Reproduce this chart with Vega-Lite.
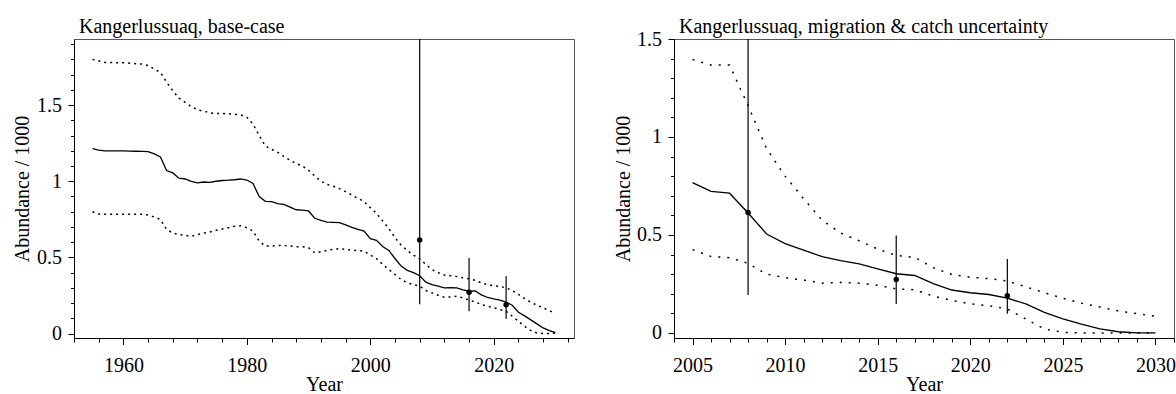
{
  "$schema": "https://vega.github.io/schema/vega-lite/v6.json",
  "padding": {"left": 11, "top": 16, "right": 0, "bottom": 0},
  "spacing": 100,
  "bounds": "flush",
  "datasets": {
    "base": [
      {"year": 1955, "med": 1.215, "hi": 1.80, "lo": 0.80},
      {"year": 1956, "med": 1.205, "hi": 1.79, "lo": 0.785},
      {"year": 1957, "med": 1.20, "hi": 1.78, "lo": 0.783},
      {"year": 1958, "med": 1.20, "hi": 1.78, "lo": 0.783},
      {"year": 1959, "med": 1.20, "hi": 1.778, "lo": 0.783},
      {"year": 1960, "med": 1.20, "hi": 1.778, "lo": 0.783},
      {"year": 1961, "med": 1.198, "hi": 1.775, "lo": 0.783},
      {"year": 1962, "med": 1.197, "hi": 1.772, "lo": 0.783},
      {"year": 1963, "med": 1.196, "hi": 1.77, "lo": 0.783},
      {"year": 1964, "med": 1.195, "hi": 1.76, "lo": 0.778},
      {"year": 1965, "med": 1.18, "hi": 1.737, "lo": 0.765},
      {"year": 1966, "med": 1.16, "hi": 1.715, "lo": 0.75},
      {"year": 1967, "med": 1.07, "hi": 1.65, "lo": 0.684},
      {"year": 1968, "med": 1.055, "hi": 1.595, "lo": 0.66},
      {"year": 1969, "med": 1.02, "hi": 1.546, "lo": 0.65},
      {"year": 1970, "med": 1.015, "hi": 1.518, "lo": 0.645},
      {"year": 1971, "med": 1.0, "hi": 1.49, "lo": 0.638},
      {"year": 1972, "med": 0.99, "hi": 1.47, "lo": 0.65},
      {"year": 1973, "med": 0.995, "hi": 1.46, "lo": 0.66},
      {"year": 1974, "med": 0.993, "hi": 1.45, "lo": 0.667},
      {"year": 1975, "med": 1.0, "hi": 1.445, "lo": 0.678},
      {"year": 1976, "med": 1.005, "hi": 1.445, "lo": 0.686},
      {"year": 1977, "med": 1.007, "hi": 1.443, "lo": 0.695},
      {"year": 1978, "med": 1.01, "hi": 1.44, "lo": 0.704},
      {"year": 1979, "med": 1.015, "hi": 1.436, "lo": 0.708},
      {"year": 1980, "med": 1.008, "hi": 1.42, "lo": 0.695},
      {"year": 1981, "med": 0.985, "hi": 1.375, "lo": 0.673},
      {"year": 1982, "med": 0.90, "hi": 1.30, "lo": 0.607},
      {"year": 1983, "med": 0.868, "hi": 1.232, "lo": 0.575},
      {"year": 1984, "med": 0.866, "hi": 1.21, "lo": 0.575},
      {"year": 1985, "med": 0.853, "hi": 1.19, "lo": 0.579},
      {"year": 1986, "med": 0.848, "hi": 1.162, "lo": 0.579},
      {"year": 1987, "med": 0.83, "hi": 1.138, "lo": 0.575},
      {"year": 1988, "med": 0.813, "hi": 1.116, "lo": 0.57},
      {"year": 1989, "med": 0.81, "hi": 1.10, "lo": 0.57},
      {"year": 1990, "med": 0.805, "hi": 1.072, "lo": 0.564},
      {"year": 1991, "med": 0.757, "hi": 1.035, "lo": 0.53},
      {"year": 1992, "med": 0.743, "hi": 1.0, "lo": 0.537},
      {"year": 1993, "med": 0.732, "hi": 0.98, "lo": 0.546},
      {"year": 1994, "med": 0.73, "hi": 0.967, "lo": 0.553},
      {"year": 1995, "med": 0.728, "hi": 0.952, "lo": 0.557},
      {"year": 1996, "med": 0.713, "hi": 0.932, "lo": 0.553},
      {"year": 1997, "med": 0.697, "hi": 0.91, "lo": 0.548},
      {"year": 1998, "med": 0.684, "hi": 0.888, "lo": 0.544},
      {"year": 1999, "med": 0.673, "hi": 0.866, "lo": 0.542},
      {"year": 2000, "med": 0.623, "hi": 0.827, "lo": 0.515},
      {"year": 2001, "med": 0.612, "hi": 0.79, "lo": 0.493},
      {"year": 2002, "med": 0.572, "hi": 0.74, "lo": 0.454},
      {"year": 2003, "med": 0.546, "hi": 0.69, "lo": 0.42},
      {"year": 2004, "med": 0.493, "hi": 0.63, "lo": 0.388},
      {"year": 2005, "med": 0.443, "hi": 0.58, "lo": 0.355},
      {"year": 2006, "med": 0.415, "hi": 0.546, "lo": 0.333},
      {"year": 2007, "med": 0.40, "hi": 0.515, "lo": 0.322},
      {"year": 2008, "med": 0.38, "hi": 0.49, "lo": 0.311},
      {"year": 2009, "med": 0.338, "hi": 0.454, "lo": 0.283},
      {"year": 2010, "med": 0.322, "hi": 0.42, "lo": 0.267},
      {"year": 2011, "med": 0.311, "hi": 0.40, "lo": 0.252},
      {"year": 2012, "med": 0.30, "hi": 0.384, "lo": 0.239},
      {"year": 2013, "med": 0.302, "hi": 0.38, "lo": 0.241},
      {"year": 2014, "med": 0.30, "hi": 0.375, "lo": 0.245},
      {"year": 2015, "med": 0.287, "hi": 0.366, "lo": 0.235},
      {"year": 2016, "med": 0.278, "hi": 0.36, "lo": 0.22},
      {"year": 2017, "med": 0.28, "hi": 0.349, "lo": 0.208},
      {"year": 2018, "med": 0.254, "hi": 0.333, "lo": 0.19},
      {"year": 2019, "med": 0.237, "hi": 0.322, "lo": 0.18},
      {"year": 2020, "med": 0.228, "hi": 0.314, "lo": 0.169},
      {"year": 2021, "med": 0.22, "hi": 0.31, "lo": 0.158},
      {"year": 2022, "med": 0.206, "hi": 0.30, "lo": 0.147},
      {"year": 2023, "med": 0.186, "hi": 0.283, "lo": 0.114},
      {"year": 2024, "med": 0.14, "hi": 0.257, "lo": 0.081},
      {"year": 2025, "med": 0.116, "hi": 0.23, "lo": 0.048},
      {"year": 2026, "med": 0.09, "hi": 0.206, "lo": 0.02},
      {"year": 2027, "med": 0.064, "hi": 0.186, "lo": 0.004},
      {"year": 2028, "med": 0.037, "hi": 0.169, "lo": 0.0},
      {"year": 2029, "med": 0.02, "hi": 0.151, "lo": 0.0},
      {"year": 2030, "med": 0.006, "hi": 0.131, "lo": 0.004}
    ],
    "mig": [
      {"year": 2005, "med": 0.767, "hi": 1.395, "lo": 0.425},
      {"year": 2006, "med": 0.722, "hi": 1.367, "lo": 0.39},
      {"year": 2007, "med": 0.713, "hi": 1.367, "lo": 0.384},
      {"year": 2008, "med": 0.612, "hi": 1.16, "lo": 0.355},
      {"year": 2009, "med": 0.505, "hi": 0.94, "lo": 0.30},
      {"year": 2010, "med": 0.456, "hi": 0.80, "lo": 0.282},
      {"year": 2011, "med": 0.423, "hi": 0.685, "lo": 0.27},
      {"year": 2012, "med": 0.389, "hi": 0.575, "lo": 0.254},
      {"year": 2013, "med": 0.369, "hi": 0.51, "lo": 0.258},
      {"year": 2014, "med": 0.352, "hi": 0.47, "lo": 0.254},
      {"year": 2015, "med": 0.327, "hi": 0.428, "lo": 0.243},
      {"year": 2016, "med": 0.302, "hi": 0.395, "lo": 0.225},
      {"year": 2017, "med": 0.293, "hi": 0.386, "lo": 0.22},
      {"year": 2018, "med": 0.252, "hi": 0.333, "lo": 0.188},
      {"year": 2019, "med": 0.219, "hi": 0.298, "lo": 0.166},
      {"year": 2020, "med": 0.205, "hi": 0.284, "lo": 0.148},
      {"year": 2021, "med": 0.196, "hi": 0.277, "lo": 0.139},
      {"year": 2022, "med": 0.177, "hi": 0.265, "lo": 0.122},
      {"year": 2023, "med": 0.148, "hi": 0.235, "lo": 0.071},
      {"year": 2024, "med": 0.105, "hi": 0.205, "lo": 0.02},
      {"year": 2025, "med": 0.072, "hi": 0.177, "lo": 0.003},
      {"year": 2026, "med": 0.045, "hi": 0.152, "lo": 0.0},
      {"year": 2027, "med": 0.021, "hi": 0.132, "lo": 0.0},
      {"year": 2028, "med": 0.006, "hi": 0.112, "lo": 0.0},
      {"year": 2029, "med": 0.0, "hi": 0.098, "lo": 0.0},
      {"year": 2030, "med": 0.0, "hi": 0.085, "lo": 0.0}
    ],
    "obs": [
      {"year": 2008, "est": 0.615, "lo": 0.193, "hi": 2.5},
      {"year": 2016, "est": 0.272, "lo": 0.147, "hi": 0.497},
      {"year": 2022, "est": 0.19, "lo": 0.098, "hi": 0.377}
    ]
  },
  "hconcat": [
    {
      "title": {"text": "Kangerlussuaq, base-case", "offset": 2},
      "width": 500,
      "height": 299,
      "encoding": {
        "x": {
          "field": "year", "type": "quantitative", "title": "Year",
          "scale": {"domain": [1952, 2033], "nice": false, "zero": false},
          "axis": {
            "values": [1952, 1956, 1960, 1964, 1968, 1972, 1976, 1980, 1984, 1988, 1992, 1996, 2000, 2004, 2008, 2012, 2016, 2020, 2024, 2028, 2032],
            "tickCount": 200,
            "format": "d",
            "labelExpr": "datum.value % 20 === 0 ? datum.label : ''",
            "tickSize": {"condition": {"test": "datum.value % 20 === 0", "value": 6.5}, "value": 4},
            "labelPadding": 10.5,
            "labelOverlap": false,
            "titleBaseline": "alphabetic",
            "titleY": 52
          }
        }
      },
      "layer": [
        {
          "data": {"name": "base"},
          "mark": {"type": "line", "color": "black", "strokeWidth": 1.3},
          "encoding": {
            "y": {
              "field": "med", "type": "quantitative", "title": "Abundance / 1000",
              "scale": {"domain": [-0.029, 1.934], "nice": false, "zero": false},
              "axis": {
                "values": [0, 0.1, 0.2, 0.3, 0.4, 0.5, 0.6, 0.7, 0.8, 0.9, 1, 1.1, 1.2, 1.3, 1.4, 1.5, 1.6, 1.7, 1.8, 1.9],
                "tickCount": 200,
                "format": "~g",
                "labelExpr": "abs(datum.value*2 - round(datum.value*2)) < 0.001 ? datum.label : ''",
                "labelFontSize": {"condition": {"test": "abs(datum.value*2 - round(datum.value*2)) < 0.001", "value": 20}, "value": 0},
                "tickSize": {"condition": {"test": "abs(datum.value*2 - round(datum.value*2)) < 0.001", "value": 6}, "value": 3.5},
                "labelPadding": 6.5,
                "labelOverlap": false,
                "titleX": -46,
                "titleY": 149.5,
                "titleBaseline": "alphabetic",
                "titleAngle": 270
              }
            }
          }
        },
        {
          "data": {"name": "base"},
          "mark": {"type": "line", "color": "black", "strokeWidth": 1.5, "strokeDash": [2, 4]},
          "encoding": {"y": {"field": "hi", "type": "quantitative", "title": "Abundance / 1000"}}
        },
        {
          "data": {"name": "base"},
          "mark": {"type": "line", "color": "black", "strokeWidth": 1.5, "strokeDash": [2, 4]},
          "encoding": {"y": {"field": "lo", "type": "quantitative", "title": "Abundance / 1000"}}
        },
        {
          "data": {"name": "obs"},
          "mark": {"type": "rule", "color": "black", "strokeWidth": 1.2, "clip": true},
          "encoding": {
            "y": {"field": "lo", "type": "quantitative", "title": "Abundance / 1000"},
            "y2": {"field": "hi"}
          }
        },
        {
          "data": {"name": "obs"},
          "mark": {"type": "point", "filled": true, "color": "black", "opacity": 1, "size": 30},
          "encoding": {"y": {"field": "est", "type": "quantitative", "title": "Abundance / 1000"}}
        }
      ]
    },
    {
      "title": {"text": "Kangerlussuaq, migration & catch uncertainty", "offset": -8},
      "width": 500,
      "height": 299,
      "encoding": {
        "x": {
          "field": "year", "type": "quantitative", "title": "Year",
          "scale": {"domain": [2004, 2031], "nice": false, "zero": false},
          "axis": {
            "values": [2004, 2005, 2006, 2007, 2008, 2009, 2010, 2011, 2012, 2013, 2014, 2015, 2016, 2017, 2018, 2019, 2020, 2021, 2022, 2023, 2024, 2025, 2026, 2027, 2028, 2029, 2030, 2031],
            "tickCount": 200,
            "format": "d",
            "labelExpr": "datum.value % 5 === 0 ? datum.label : ''",
            "tickSize": {"condition": {"test": "datum.value % 5 === 0", "value": 6.5}, "value": 4},
            "labelPadding": 10.5,
            "labelOverlap": false,
            "titleBaseline": "alphabetic",
            "titleY": 52
          }
        }
      },
      "layer": [
        {
          "data": {"name": "mig"},
          "mark": {"type": "line", "color": "black", "strokeWidth": 1.3},
          "encoding": {
            "y": {
              "field": "med", "type": "quantitative", "title": "Abundance / 1000",
              "scale": {"domain": [-0.026, 1.5], "nice": false, "zero": false},
              "axis": {
                "values": [0, 0.1, 0.2, 0.3, 0.4, 0.5, 0.6, 0.7, 0.8, 0.9, 1, 1.1, 1.2, 1.3, 1.4, 1.5],
                "tickCount": 200,
                "format": "~g",
                "labelExpr": "abs(datum.value*2 - round(datum.value*2)) < 0.001 ? datum.label : ''",
                "labelFontSize": {"condition": {"test": "abs(datum.value*2 - round(datum.value*2)) < 0.001", "value": 20}, "value": 0},
                "tickSize": {"condition": {"test": "abs(datum.value*2 - round(datum.value*2)) < 0.001", "value": 6}, "value": 3.5},
                "labelPadding": 6.5,
                "labelOverlap": false,
                "titleX": -45,
                "titleY": 149.5,
                "titleBaseline": "alphabetic",
                "titleAngle": 270
              }
            }
          }
        },
        {
          "data": {"name": "mig"},
          "mark": {"type": "line", "color": "black", "strokeWidth": 1.5, "strokeDash": [2, 7]},
          "encoding": {"y": {"field": "hi", "type": "quantitative", "title": "Abundance / 1000"}}
        },
        {
          "data": {"name": "mig"},
          "mark": {"type": "line", "color": "black", "strokeWidth": 1.5, "strokeDash": [2, 7]},
          "encoding": {"y": {"field": "lo", "type": "quantitative", "title": "Abundance / 1000"}}
        },
        {
          "data": {"name": "obs"},
          "mark": {"type": "rule", "color": "black", "strokeWidth": 1.2, "clip": true},
          "encoding": {
            "y": {"field": "lo", "type": "quantitative", "title": "Abundance / 1000"},
            "y2": {"field": "hi"}
          }
        },
        {
          "data": {"name": "obs"},
          "mark": {"type": "point", "filled": true, "color": "black", "opacity": 1, "size": 30},
          "encoding": {"y": {"field": "est", "type": "quantitative", "title": "Abundance / 1000"}}
        }
      ]
    }
  ],
  "config": {
    "font": "Liberation Serif, Times New Roman, serif",
    "background": "white",
    "view": {"stroke": "#555555", "strokeWidth": 1},
    "axis": {
      "grid": false,
      "labelFont": "Liberation Serif, Times New Roman, serif",
      "titleFont": "Liberation Serif, Times New Roman, serif",
      "labelFontSize": 20,
      "titleFontSize": 20,
      "titleFontWeight": "normal",
      "labelColor": "black",
      "titleColor": "black",
      "domainColor": "black",
      "tickColor": "black",
      "domainWidth": 1,
      "tickWidth": 1,
      "labelFlush": false,
      "labelOverlap": false,
      "labelBound": false
    },
    "title": {
      "font": "Liberation Serif, Times New Roman, serif",
      "fontSize": 20,
      "fontWeight": "normal",
      "color": "black",
      "anchor": "start",
      "frame": "group",
      "baseline": "alphabetic",
      "dx": 5
    }
  }
}
